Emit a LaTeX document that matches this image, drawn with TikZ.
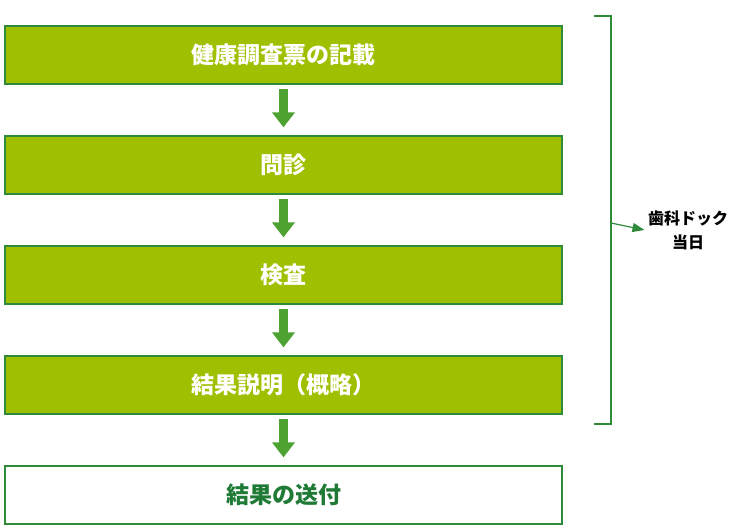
\documentclass[tikz,border=0pt]{standalone}
\usepackage{fontspec}
\newfontfamily\cjk{Noto Sans CJK JP}
\usetikzlibrary{positioning,arrows.meta}
\definecolor{boxgreen}{HTML}{9FC000}
\definecolor{edgegreen}{HTML}{2E8B3A}
\definecolor{arrowgreen}{HTML}{4DA232}
\definecolor{textgreen}{HTML}{1F7A35}
\begin{document}
\begin{tikzpicture}[x=1pt, y=-1pt]

	% Estilos de las cajas y flechas
	\tikzset{
		stepbox/.style={draw=edgegreen, line width=1.2pt, fill=boxgreen, text=white,
			minimum width=557pt, minimum height=58pt, inner sep=0pt,
			font=\cjk\bfseries\fontsize{23}{26}\selectfont},
		lastbox/.style={stepbox, fill=white, text=textgreen},
		flow/.style={arrowgreen, line width=9pt, -{Triangle[width=22pt,length=15pt]},
			shorten <=4pt, shorten >=8pt}
	}
	\useasboundingbox (0,0) rectangle (742,529);

	% Cajas del proceso
	\node[stepbox] (entry) at (283.5, 55) {健康調査票の記載};
	\node[stepbox] (interview) at (283.5, 165) {問診};
	\node[stepbox] (exam) at (283.5, 275) {検査};
	\node[stepbox] (explain) at (283.5, 385) {結果説明（概略）};
	\node[lastbox] (send) at (283.5, 495) {結果の送付};

	% Flechas entre cajas
	\draw[flow] (entry) -- (interview);
	\draw[flow] (interview) -- (exam);
	\draw[flow] (exam) -- (explain);
	\draw[flow] (explain) -- (send);

	% Llave lateral
	\coordinate (btop) at (594, 16);
	\coordinate (bbot) at (594, 424);
	\coordinate (bmid) at (611, 223);
	\draw[edgegreen, line width=1.2pt] (btop) -- (611, 16) -- (611, 424) -- (bbot);
	\node[font=\cjk\bfseries\fontsize{16}{24}\selectfont, align=center] (day) at (688, 230) {歯科ドック\\当日};
	\draw[edgegreen, line width=1.2pt, -{Triangle[width=9pt,length=12pt]}] (bmid) -- (day.west);

\end{tikzpicture}
\end{document}
